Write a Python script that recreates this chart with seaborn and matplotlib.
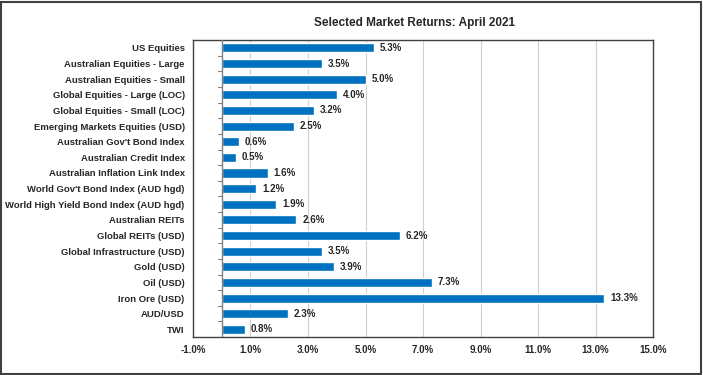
import pandas as pd
import seaborn as sns
import matplotlib.pyplot as plt
from matplotlib.patches import Rectangle

# Data
categories = [
    'US Equities', 'Australian Equities - Large', 'Australian Equities - Small',
    'Global Equities - Large (LOC)', 'Global Equities - Small (LOC)',
    'Emerging Markets Equities (USD)', "Australian Gov't Bond Index",
    'Australian Credit Index', 'Australian Inflation Link Index',
    "World Gov't Bond Index (AUD hgd)", 'World High Yield Bond Index (AUD hgd)',
    'Australian REITs', 'Global REITs (USD)', 'Global Infrastructure (USD)',
    'Gold (USD)', 'Oil (USD)', 'Iron Ore (USD)', 'AUD/USD', 'TWI',
]
returns = [5.3, 3.5, 5.0, 4.0, 3.2, 2.5, 0.6, 0.5, 1.6, 1.2, 1.9, 2.6, 6.2, 3.5, 3.9, 7.3, 13.3, 2.3, 0.8]
x_ticks = [-1, 1, 3, 5, 7, 9, 11, 13, 15]

df = pd.DataFrame({'Asset': categories, 'Return': returns})

sns.set_style('white')
plt.rcParams['font.family'] = ['Liberation Sans', 'DejaVu Sans']

fig = plt.figure(figsize=(7.03, 3.75), dpi=100)
ax = fig.add_axes([0.2745, 0.101, 0.6545, 0.792])

sns.barplot(data=df, x='Return', y='Asset', orient='h', color='#0070C0',
            width=0.58, saturation=1, ax=ax)

ax.set_xlim(-1, 15)
ax.set_ylim(len(categories) - 0.5, -0.5)
ax.set_xticks(x_ticks)
ax.set_xticklabels([f'{t:.1f}%' for t in x_ticks], fontsize=7, fontweight='bold')
ax.set_yticks(range(len(categories)))
ax.set_yticklabels(categories, fontsize=6.8, fontweight='bold')
ax.tick_params(axis='both', length=0, pad=6)
ax.set_xlabel('')
ax.set_ylabel('')

# vertical gridlines at the ticks
for t in x_ticks[1:-1]:
    ax.axvline(t, color='#d0d0d0', lw=0.8, zorder=0)

# axis line at zero with small tick marks between categories
ax.axvline(0, color='#808080', lw=1, zorder=3)
for i in range(len(categories) - 1):
    ax.plot([-0.12, 0], [i + 0.5, i + 0.5], color='#808080', lw=0.8, zorder=3)

for s in ax.spines.values():
    s.set_color('#404040')
    s.set_linewidth(1)

for i, v in enumerate(returns):
    ax.text(v + 0.2, i, f'{v:.1f}%', va='center', ha='left', fontsize=7, fontweight='bold')

fig.suptitle('Selected Market Returns: April 2021', x=0.59, y=0.955,
             fontsize=8.5, fontweight='bold')

fig.patches.append(Rectangle((0.002, 0.003), 0.995, 0.993, transform=fig.transFigure,
                             fill=False, edgecolor='#404040', lw=1.5))

fig.savefig('out.png', dpi=100)
